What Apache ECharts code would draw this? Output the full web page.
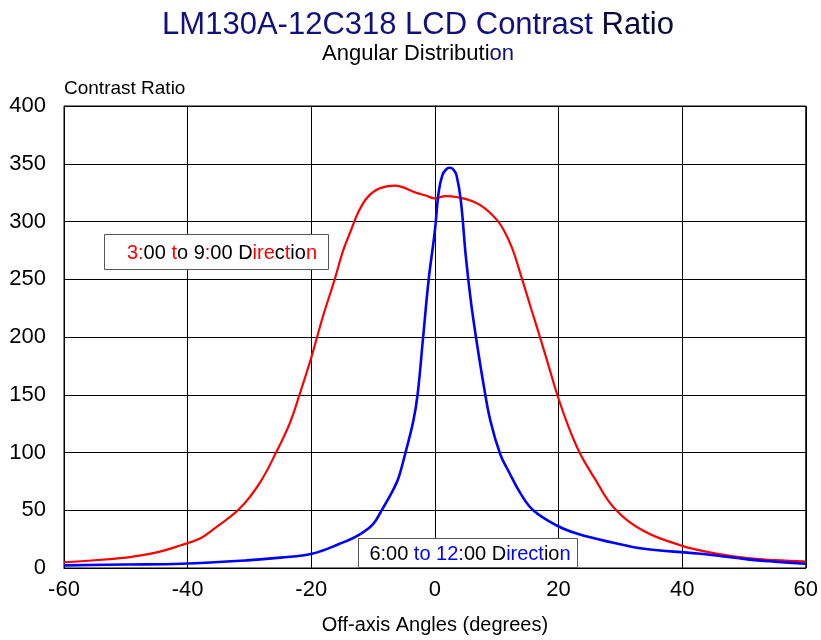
<!DOCTYPE html>
<html>
<head>
<meta charset="utf-8">
<script src="https://cdn.jsdelivr.net/npm/echarts@6/dist/echarts.min.js"></script>
<style>html,body{margin:0;padding:0;background:#fff}#c{width:821px;height:640px}</style>
</head>
<body>
<div id="c"></div>
<script>
// Data
const xTicks = [-60, -40, -20, 0, 20, 40, 60];
const yTicks = [0, 50, 100, 150, 200, 250, 300, 350, 400];

// 3:00 to 9:00 direction (red)  [angle, contrast ratio]
const horizAngles = [-60,-55,-50,-48.6,-45,-41.2,-38,-35.8,-31.5,-28.3,-25.6,-23.5,-21.9,-19.9,-18.1,-16.2,-14.9,-13.6,-12.3,-10.9,-9,-6.5,-3.1,-1.5,0,1.7,3.7,6.1,8.2,10.1,11.2,12.5,14,15.6,17,18.4,19.8,21.5,23.4,25.8,29,33.8,39.8,42.5,46,50.6,55,60];
const horizValues = [5,6.7,9,10,13.5,19.5,25.5,33.7,52,74,101,125,150,184,218,250,274,292,309,321,328.5,331,325,322.5,320,322,321,317.5,311,301,292,277,252,224,200,175,150,124,100,78,52,32,19.5,15.7,12,8.5,6.8,5.5];

// 6:00 to 12:00 direction (blue)
const vertAngles = [-60,-50,-41,-30.4,-25,-19.9,-15.4,-12.2,-10,-8.5,-7,-6.1,-5.7,-4.7,-3.5,-2.8,-1.9,-1,0,0.6,1.2,1.8,2.4,3,3.5,4.2,5,5.8,6.7,7.9,9,10.6,11.9,13.8,15.9,19.8,23.2,28.5,33.8,42.5,50.6,55,60];
const vertValues = [2.3,3,3.7,6.6,9,12.3,21,29,38,51,65,75,81,101,127,150,200,250,292,325,340,345,346.5,345,340,318,270,232,198,158,127,98,84,65,50,36.6,29.4,22.3,16.6,12.6,7.5,5.5,3.7];

const yName = 'Contrast Ratio';
const xName = 'Off-axis Angles (degrees)';

const pairs = (a, b) => a.map((x, i) => [x, b[i]]);
const FONT = '"Liberation Sans", Arial, sans-serif';
const NAVY = '#10107e';

const chart = echarts.init(document.getElementById('c'), null, {renderer: 'canvas'});
chart.setOption({
  backgroundColor: '#fff',
  animation: false,
  textStyle: {fontFamily: FONT},
  grid: {left: 64, right: 14, top: 106, bottom: 69, show: true, borderColor: '#000', borderWidth: 1, backgroundColor: 'transparent'},
  xAxis: {
    type: 'value', min: -60, max: 60, interval: 20,
    axisLine: {show: true, lineStyle: {color: '#000', width: 1}},
    axisTick: {show: false},
    splitLine: {show: true, lineStyle: {color: '#000', width: 1}},
    axisLabel: {fontSize: 22, color: '#000', margin: 11, fontFamily: FONT,
      formatter: v => xTicks.includes(v) ? String(v) : ''},
    name: xName, nameLocation: 'middle', nameGap: 47,
    nameTextStyle: {fontSize: 20, color: '#000', fontFamily: FONT}
  },
  yAxis: {
    type: 'value', min: 0, max: 400, interval: 50,
    axisLine: {show: true, lineStyle: {color: '#000', width: 1}},
    axisTick: {show: false},
    splitLine: {show: true, lineStyle: {color: '#000', width: 1}},
    axisLabel: {fontSize: 22, color: '#000', margin: 18, fontFamily: FONT,
      formatter: v => yTicks.includes(v) ? String(v) : ''}
  },
  series: [
    {type: 'line', name: '3:00 to 9:00 Direction', data: pairs(horizAngles, horizValues),
     showSymbol: false, smooth: 0.4,
     lineStyle: {color: '#ff0000', width: 2.2}, itemStyle: {color: '#ff0000'}, z: 3},
    {type: 'line', name: '6:00 to 12:00 Direction', data: pairs(vertAngles, vertValues),
     showSymbol: false, smooth: 0.4,
     lineStyle: {color: '#0000ff', width: 2.6}, itemStyle: {color: '#0000ff'}, z: 4}
  ],
  graphic: [
    {type: 'text', x: 418, y: 25, z: 10,
     style: {text: '{n|LM130A-12C318 LCD Contrast }{k|Ratio}', textAlign: 'center', textVerticalAlign: 'middle',
       rich: {n: {fontSize: 31, fill: NAVY, fontFamily: FONT}, k: {fontSize: 31, fill: '#0a0a3a', fontFamily: FONT}}}},
    {type: 'text', x: 418, y: 54, z: 10,
     style: {text: '{k|Angular Distributi}{n|on}', textAlign: 'center', textVerticalAlign: 'middle',
       rich: {n: {fontSize: 22, fill: NAVY, fontFamily: FONT}, k: {fontSize: 22, fill: '#000', fontFamily: FONT}}}},
    {type: 'text', x: 64, y: 89, z: 10,
     style: {text: yName, textAlign: 'left', textVerticalAlign: 'middle', fontSize: 19, fill: '#000', fontFamily: FONT}},
    {type: 'rect', shape: {x: 104.5, y: 234.5, width: 224, height: 35}, z: 20,
     style: {fill: '#fff', stroke: '#555', lineWidth: 1}},
    {type: 'text', x: 222, y: 253, z: 21,
     style: {text: '{r|3:}{k|00 }{r|t}{k|o 9}{r|:}{k|00 D}{r|ire}{k|c}{r|t}{k|io}{r|n}',
       textAlign: 'center', textVerticalAlign: 'middle',
       rich: {r: {fontSize: 20, fill: '#ff0000', fontFamily: FONT}, k: {fontSize: 20, fill: '#000', fontFamily: FONT}}}},
    {type: 'rect', shape: {x: 358.5, y: 538.5, width: 219, height: 29}, z: 20,
     style: {fill: '#fff', stroke: '#555', lineWidth: 1}},
    {type: 'text', x: 470, y: 554, z: 21,
     style: {text: '{k|6}{b|:}{k|00 }{b|to 12:}{k|00 D}{b|irect}{k|io}{b|n}',
       textAlign: 'center', textVerticalAlign: 'middle',
       rich: {b: {fontSize: 20, fill: '#0000ff', fontFamily: FONT}, k: {fontSize: 20, fill: '#000', fontFamily: FONT}}}}
  ]
});
</script>
</body>
</html>
